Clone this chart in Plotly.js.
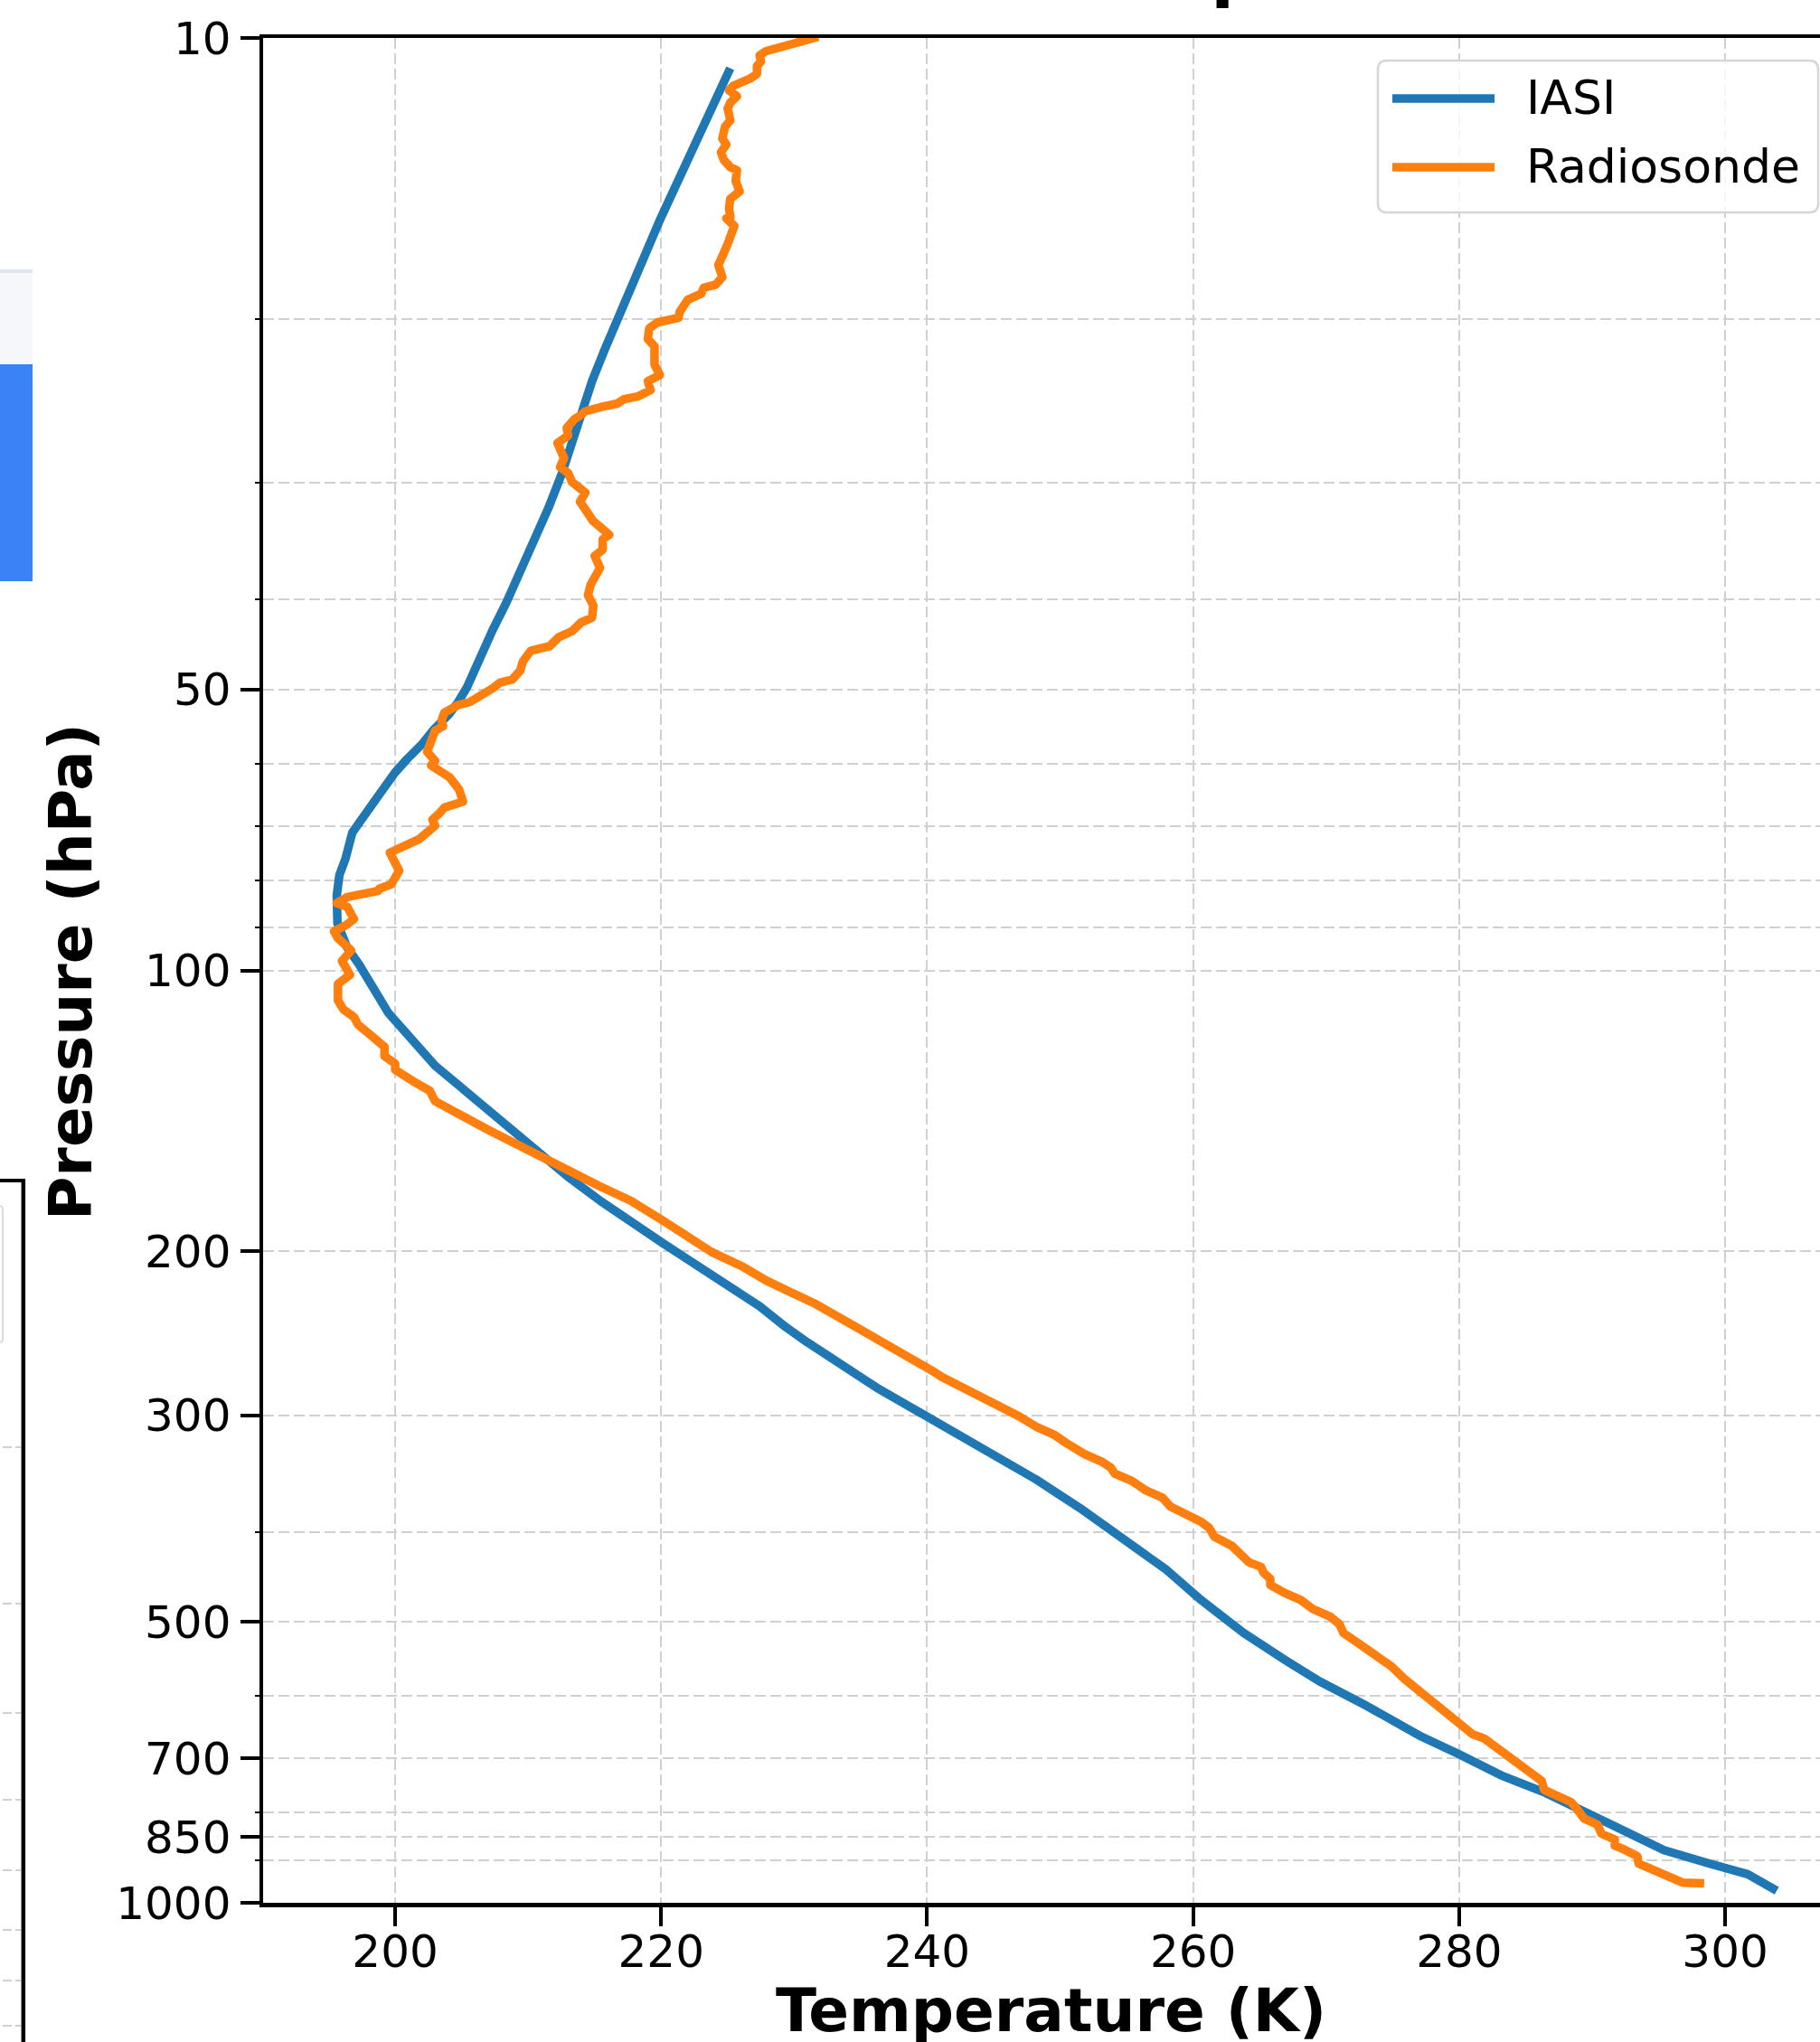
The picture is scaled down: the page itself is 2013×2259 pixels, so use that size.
<!DOCTYPE html>
<html>
<head>
<meta charset="utf-8">
<script src="https://cdn.plot.ly/plotly-3.0.1.min.js"></script>
<style>
  html, body { margin: 0; padding: 0; background: #fff; overflow: hidden; width: 2013px; height: 2259px; }
  #chart { width: 2060px; height: 2259px; }
  .scatterlayer path.js-line { stroke-linejoin: round; stroke-linecap: square; }
</style>
</head>
<body>
<div id="chart"></div>
<script>
// ---------------- data ----------------
const iasiTemp = [225.06, 222.86, 221.16, 219.91, 219.01, 217.88, 216.51, 215.75, 214.82, 214.14, 213.23, 212.55, 211.53, 210.62, 209.49, 208.36, 207.34, 206.32, 205.41, 204.73, 204.05, 202.92, 202.01, 200.88, 199.97, 198.5, 196.78, 196.26, 195.81, 195.61, 195.66, 196.39, 197.28, 199.49, 201.2, 203.0, 205.5, 208.0, 210.5, 213.0, 215.5, 217.9, 220.1, 222.6, 225.0, 227.4, 229.4, 231.0, 236.2, 240.1, 244.3, 248.2, 251.5, 254.7, 258.0, 260.6, 263.8, 267.0, 269.5, 273.0, 277.0, 279.9, 283.3, 286.5, 289.65, 293.4, 295.4, 298.85, 301.7, 303.6];
const iasiPres = [10.88, 12.64, 14.34, 15.67, 16.76, 18.32, 20.34, 21.59, 23.3, 25.04, 27.38, 29.28, 31.9, 34.23, 37.15, 40.32, 43.12, 46.8, 49.67, 51.56, 53.12, 55.13, 57.22, 59.38, 61.4, 65.7, 71.15, 75.92, 78.99, 83.06, 89.0, 94.5, 98.5, 111.1, 118.8, 126.5, 135.5, 145.3, 155.8, 166.5, 177.0, 187.0, 196.0, 206.8, 217.6, 229.2, 241.5, 250.6, 280.2, 301.8, 326.3, 351.6, 377.4, 406.4, 439.5, 473.5, 513.7, 550, 578.8, 614.4, 661.6, 691.8, 731.5, 762.3, 803.0, 852.2, 878.0, 907.9, 931.8, 965.6];

const sondeTemp = [231.5, 230.1, 228.8, 227.9, 227.4, 227.5, 227.2, 227.2, 226.7, 226.0, 225.4, 225.1, 225.7, 225.2, 225.0, 225.2, 224.8, 224.6, 224.9, 224.5, 224.7, 225.2, 225.7, 225.6, 225.9, 225.2, 225.1, 225.2, 224.9, 225.5, 225.1, 225.0, 224.8, 224.5, 224.3, 224.6, 224.1, 223.2, 223.0, 222.0, 221.7, 221.4, 221.3, 219.7, 219.1, 219.0, 219.5, 219.5, 219.5, 219.9, 219.0, 219.2, 218.3, 217.2, 216.7, 215.6, 214.3, 213.9, 213.5, 212.9, 213.0, 212.2, 212.4, 212.7, 212.4, 213.0, 213.3, 214.0, 214.3, 213.9, 214.5, 214.9, 216.1, 215.6, 215.6, 215.0, 215.4, 214.7, 214.5, 214.9, 214.8, 214.0, 213.3, 212.3, 211.6, 210.2, 209.6, 209.4, 208.8, 207.9, 207.3, 206.7, 206.4, 205.6, 204.7, 203.7, 203.5, 203.6, 203.0, 202.7, 202.4, 203.0, 202.7, 204.1, 204.8, 205.1, 203.7, 203.3, 202.8, 203.0, 202.4, 201.8, 199.6, 200.0, 200.3, 199.9, 199.7, 198.8, 198.7, 196.4, 195.6, 196.4, 196.9, 196.3, 195.4, 195.7, 196.7, 196.0, 196.6, 195.7, 195.7, 196.1, 196.9, 197.2, 198.0, 198.4, 199.2, 199.2, 200.0, 200.0, 201.4, 202.6, 203.0, 203.8, 205.3, 207.0, 208.5, 210.4, 211.9, 213.3, 215.3, 217.7, 220.1, 222.3, 223.8, 226.2, 227.9, 229.8, 231.5, 234.9, 238.5, 239.5, 240.4, 241.1, 243.0, 244.3, 245.6, 246.9, 248.2, 249.5, 250.5, 251.8, 253.1, 253.8, 254.1, 255.4, 256.4, 257.7, 258.3, 259.6, 260.6, 261.2, 261.6, 262.9, 263.7, 264.2, 265.1, 265.3, 265.8, 265.8, 266.8, 268.1, 269.0, 270.3, 271.0, 271.3, 272.3, 273.6, 274.9, 275.9, 277.2, 278.5, 279.3, 280.2, 281.0, 281.9, 283.3, 284.5, 285.4, 286.2, 286.4, 287.4, 288.4, 288.8, 289.4, 290.4, 290.7, 291.7, 291.7, 292.5, 293.4, 293.5, 294.5, 295.6, 296.8, 298.1];
const sondePres = [10.0, 10.12, 10.22, 10.33, 10.44, 10.6, 10.72, 10.93, 11.05, 11.17, 11.26, 11.38, 11.55, 11.73, 11.9, 12.26, 12.45, 12.82, 13.01, 13.26, 13.51, 13.76, 13.86, 14.23, 14.61, 14.88, 15.22, 15.56, 15.61, 15.91, 16.33, 16.63, 16.89, 17.2, 17.52, 18.05, 18.39, 18.53, 18.81, 19.09, 19.38, 19.66, 19.96, 20.19, 20.49, 21.03, 21.42, 21.91, 22.4, 22.99, 23.34, 23.86, 24.22, 24.4, 24.67, 24.86, 25.14, 25.42, 25.61, 26.19, 26.69, 27.19, 27.7, 28.22, 28.85, 29.28, 29.94, 30.62, 30.74, 31.43, 32.26, 32.99, 34.11, 34.49, 35.4, 35.93, 37.01, 38.57, 39.58, 40.62, 41.85, 42.32, 43.27, 43.92, 44.92, 45.42, 46.63, 47.69, 48.76, 49.12, 49.86, 50.42, 50.99, 51.56, 51.94, 52.91, 53.9, 54.71, 55.33, 56.78, 58.29, 59.61, 60.28, 62.09, 63.97, 65.91, 66.89, 67.9, 68.92, 69.94, 71.26, 72.33, 74.77, 76.46, 78.19, 79.96, 80.85, 81.75, 82.2, 83.43, 84.7, 85.5, 88.1, 89.45, 90.8, 92.4, 95.2, 97.7, 101.1, 103.4, 107.7, 110.1, 112.2, 114.3, 116.5, 118.1, 120.8, 123.6, 125.9, 127.8, 131.6, 134.6, 138.1, 140.3, 143.9, 148.3, 152.2, 157.4, 161.0, 164.6, 170.2, 176.6, 185.4, 194.6, 200.5, 208.1, 215.1, 221.6, 227.5, 242.4, 259.0, 263.0, 268.9, 272.9, 281.3, 287.6, 293.0, 300.7, 308.6, 314.5, 321.6, 330.0, 336.3, 341.3, 346.4, 352.9, 360.9, 367.7, 376.0, 383.1, 390.2, 396.1, 404.9, 414.1, 425.0, 431.4, 436.2, 442.7, 449.3, 456.1, 464.7, 473.5, 484.1, 493.2, 502.5, 513.8, 525.4, 541.3, 557.6, 575.5, 596.3, 615.5, 632.9, 647.1, 659.2, 666.7, 689.4, 713.0, 729.1, 740.0, 756.8, 768.2, 779.6, 791.3, 812.2, 824.4, 843.0, 855.5, 868.3, 878.0, 891.2, 907.9, 921.4, 938.8, 951.5, 953.0];

const tempTicks = [200, 220, 240, 260, 280, 300];
const pressureTicks = [10, 50, 100, 200, 300, 500, 700, 850, 1000];
const pressureTickText = ['10', '50', '100', '200', '300', '500', '700', '850', '1000'];
const pressureMinor = [20, 30, 40, 60, 70, 80, 90, 400, 600, 800, 900];
const seriesNames = ['IASI', 'Radiosonde'];
const titleText = 'IASI vs Radiosonde Temperature Profile';
const xTitle = 'Temperature (K)';
const yTitle = 'Pressure (hPa)';

// ---------------- layout helpers ----------------
const FIG_W = 2060, FIG_H = 2259;
const M = { l: 291, r: 25, t: 42, b: 154 };
const PW = FIG_W - M.l - M.r, PH = FIG_H - M.t - M.b;
const xp = px => (px - M.l) / PW;            // page pixel -> paper x
const yp = py => (FIG_H - M.b - py) / PH;    // page pixel -> paper y
const FONT = 'DejaVu Sans';
const BLUE = '#1f77b4', ORANGE = '#ff7f0e';
const LW = 9.5;
const GRID = '#d0d0d0', GRIDDASH = '12px,5px';

function roundRect(x0, y0, x1, y1, r) {
  const X0 = xp(x0), X1 = xp(x1), Yt = yp(y0), Yb = yp(y1);
  const rx = r / PW, ry = r / PH;
  return `M${X0 + rx},${Yb} L${X1 - rx},${Yb} Q${X1},${Yb} ${X1},${Yb + ry} ` +
         `L${X1},${Yt - ry} Q${X1},${Yt} ${X1 - rx},${Yt} L${X0 + rx},${Yt} ` +
         `Q${X0},${Yt} ${X0},${Yt - ry} L${X0},${Yb + ry} Q${X0},${Yb} ${X0 + rx},${Yb} Z`;
}
function rectP(x0, y0, x1, y1, fill, line) {
  return { type: 'rect', xref: 'paper', yref: 'paper', layer: 'above',
    x0: xp(x0), x1: xp(x1), y0: yp(y1), y1: yp(y0),
    fillcolor: fill, line: line || { width: 0 } };
}
function lineP(x0, y0, x1, y1, color, width, dash) {
  return { type: 'line', xref: 'paper', yref: 'paper', layer: 'above',
    x0: xp(x0), x1: xp(x1), y0: yp(y0), y1: yp(y1),
    line: { color: color, width: width, dash: dash || 'solid' } };
}

const traces = [
  { x: iasiTemp, y: iasiPres, name: seriesNames[0], type: 'scatter', mode: 'lines',
    line: { color: BLUE, width: LW }, hoverinfo: 'skip' },
  { x: sondeTemp, y: sondePres, name: seriesNames[1], type: 'scatter', mode: 'lines',
    line: { color: ORANGE, width: LW }, hoverinfo: 'skip' }
];

const shapes = [
  { type: 'path', xref: 'paper', yref: 'paper', layer: 'above',
    path: roundRect(1524, 67, 2011, 235, 10),
    fillcolor: 'rgba(255,255,255,0.8)', line: { color: '#d6d6d6', width: 2.5 } },
  lineP(1540, 109, 1653, 109, BLUE, LW),
  lineP(1540, 185, 1653, 185, ORANGE, LW),
  // pieces of neighbouring content visible at the left edge of the reference
  rectP(0, 299, 36, 403, '#f5f7fa'),
  rectP(0, 298, 36, 302, '#dfe5ee'),
  rectP(0, 403, 36, 643, '#3b82f6'),
  lineP(0, 1306, 28, 1306, '#000', 4),
  lineP(25.8, 1304, 25.8, 2259, '#000', 4.5),
  { type: 'path', xref: 'paper', yref: 'paper', layer: 'above',
    path: roundRect(-10, 1334, 3, 1485, 4), fillcolor: 'rgba(0,0,0,0)',
    line: { color: '#dcdcdc', width: 2 } }
];
[1601, 1774, 1895, 1991, 2069, 2135, 2191, 2241].forEach(y => {
  shapes.push(lineP(3, y, 13, y, GRID, 2));
  shapes.push(lineP(17, y, 23, y, GRID, 2));
});

const annotations = [
  { text: '<b>' + titleText + '</b>', xref: 'paper', yref: 'paper', x: xp(1173), y: yp(13),
    xanchor: 'center', yanchor: 'bottom', showarrow: false,
    font: { family: FONT, size: 75, color: '#000' } },
  { text: '<b>' + xTitle + '</b>', xref: 'paper', yref: 'paper', x: xp(1162), y: yp(2224),
    xanchor: 'center', yanchor: 'middle', showarrow: false,
    font: { family: FONT, size: 66, color: '#000' } },
  { text: '<b>' + yTitle + '</b>', xref: 'paper', yref: 'paper', x: xp(78), y: yp(1075),
    xanchor: 'center', yanchor: 'middle', textangle: -90, showarrow: false,
    font: { family: FONT, size: 66, color: '#000' } },
  { text: seriesNames[0], xref: 'paper', yref: 'paper', x: xp(1686), y: yp(108.5),
    xanchor: 'left', yanchor: 'middle', showarrow: false,
    font: { family: FONT, size: 52, color: '#000' } },
  { text: seriesNames[1], xref: 'paper', yref: 'paper', x: xp(1686), y: yp(184.5),
    xanchor: 'left', yanchor: 'middle', showarrow: false,
    font: { family: FONT, size: 52, color: '#000' } }
];

const layout = {
  width: FIG_W, height: FIG_H,
  margin: M,
  paper_bgcolor: '#fff', plot_bgcolor: '#fff',
  showlegend: false,
  font: { family: FONT, color: '#000' },
  xaxis: {
    range: [190.07, 190.07 + PW / 14.71],
    tickmode: 'array', tickvals: tempTicks,
    ticks: 'outside', ticklen: 21, tickwidth: 4, tickcolor: '#000',
    ticklabelstandoff: -15,
    showline: true, linewidth: 4.5, linecolor: '#000', mirror: true,
    showgrid: true, gridcolor: GRID, gridwidth: 2, griddash: GRIDDASH,
    zeroline: false,
    tickfont: { family: FONT, size: 50, color: '#000' }
  },
  yaxis: {
    type: 'log', range: [3, 1],
    tickmode: 'array', tickvals: pressureTicks, ticktext: pressureTickText,
    ticks: 'outside', ticklen: 21, tickwidth: 4, tickcolor: '#000',
    showline: true, linewidth: 4.5, linecolor: '#000', mirror: true,
    showgrid: true, gridcolor: GRID, gridwidth: 2, griddash: GRIDDASH,
    zeroline: false,
    tickfont: { family: FONT, size: 50, color: '#000' },
    minor: { tickmode: 'array', tickvals: pressureMinor, ticks: 'outside', ticklen: 5,
      tickwidth: 2, tickcolor: '#000', showgrid: true, gridcolor: GRID,
      gridwidth: 2, griddash: GRIDDASH }
  },
  shapes: shapes,
  annotations: annotations
};

Plotly.newPlot('chart', traces, layout, { staticPlot: true, displayModeBar: false });
</script>
</body>
</html>
